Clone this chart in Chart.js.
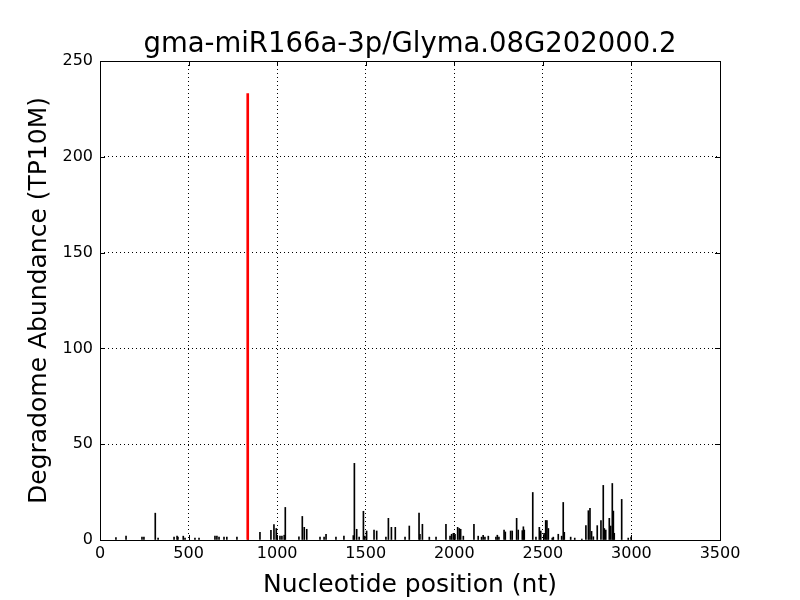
<!DOCTYPE html>
<html>
<head>
<meta charset="utf-8">
<script src="https://cdn.jsdelivr.net/npm/chart.js@4.4.1/dist/chart.umd.min.js"></script>
<style>
  html, body { margin: 0; padding: 0; background: #fff; }
  #wrap { width: 800px; height: 600px; }
</style>
</head>
<body>
<div id="wrap"><canvas id="degChart" width="800" height="600"></canvas></div>
<script>
// cleavage site (red) and other degradome tags (black)
const sitePos = [834];
const siteVal = [233];

const tagPos = [90, 147, 237, 248, 312, 328, 418, 435, 440, 470, 480, 536, 559, 649, 660, 672, 700, 716, 773, 836,
  903, 965, 982, 995, 1016, 1027, 1040, 1046, 1123, 1142, 1153, 1167, 1242, 1265, 1276, 1332, 1377,
  1430, 1436, 1449, 1463, 1487, 1495, 1505, 1547, 1562, 1614, 1628, 1645, 1667, 1722, 1746,
  1801, 1806, 1820, 1859, 1897, 1953, 1976, 1985, 1995, 2004, 2019, 2028, 2036, 2051, 2111,
  2135, 2154, 2163, 2173, 2192, 2235, 2243, 2252, 2281, 2288, 2318, 2327, 2352, 2361, 2384, 2390, 2395,
  2443, 2461, 2480, 2488, 2507, 2516, 2523, 2531, 2553, 2559, 2587, 2606, 2615, 2621, 2657, 2680, 2720,
  2743, 2757, 2766, 2775, 2785, 2807, 2828, 2841, 2847, 2855, 2875, 2883, 2892, 2898, 2903, 2945, 2982, 2998];
const tagVal = [1.2, 2, 1.5, 1.5, 14, 1, 1.5, 2, 1.5, 2, 1, 1, 1, 2, 2, 1.5, 1.5, 1.5, 1.5, 37,
  4, 5, 8, 6, 2, 2, 2.5, 17, 1.7, 12.3, 6.6, 5.6, 1.5, 1.5, 3, 1.5, 2,
  2.3, 40, 5.6, 1.5, 15, 2, 4.7, 5.2, 4.7, 1.5, 11.3, 6.6, 6.6, 1.5, 7.3,
  14, 3, 8.2, 1.5, 1.5, 8.2, 2, 3, 3.5, 3, 6.6, 6, 5.6, 2, 8.2,
  2, 1.5, 2.5, 1.5, 2, 1.5, 2.5, 1.5, 5.2, 4.2, 4.7, 4.7, 11.3, 5.2, 4.9, 6.9, 5.2,
  24.8, 1.5, 6.6, 4.7, 3.5, 10.2, 10.1, 6, 1, 1.5, 3, 2, 19.6, 4, 1.5, 1, 0.5,
  7.5, 15.3, 16.5, 4.5, 1.7, 7.5, 10.2, 28.5, 6, 5.2, 11.3, 7.3, 29.5, 15.1, 3.5, 21.2, 1, 1.5];

const xTicks = [0, 500, 1000, 1500, 2000, 2500, 3000, 3500];
const yTicks = [0, 50, 100, 150, 200, 250];

const FONT = "'DejaVu Sans', sans-serif";

// frame + inward ticks on all four sides, matplotlib classic look
const frameTicks = {
  id: 'frameTicks',
  afterDraw(chart) {
    const { ctx, chartArea: a, scales: { x, y } } = chart;
    const len = 5;
    ctx.save();
    ctx.strokeStyle = '#000';
    ctx.lineWidth = 1;
    ctx.beginPath();
    xTicks.forEach(v => {
      const px = Math.round(x.getPixelForValue(v)) + 0.5;
      ctx.moveTo(px, a.bottom); ctx.lineTo(px, a.bottom - len);
      ctx.moveTo(px, a.top); ctx.lineTo(px, a.top + len);
    });
    yTicks.forEach(v => {
      const py = Math.round(y.getPixelForValue(v)) + 0.5;
      ctx.moveTo(a.left, py); ctx.lineTo(a.left + len, py);
      ctx.moveTo(a.right, py); ctx.lineTo(a.right - len, py);
    });
    ctx.stroke();
    ctx.strokeRect(Math.round(a.left) + 0.5, Math.round(a.top) + 0.5,
      Math.round(a.right - a.left), Math.round(a.bottom - a.top));
    ctx.restore();
  }
};

new Chart(document.getElementById('degChart'), {
  type: 'bar',
  data: {
    datasets: [
      {
        data: sitePos.map((p, i) => ({ x: p, y: siteVal[i] })),
        backgroundColor: '#ff0000',
        barThickness: 2,
        grouped: false
      },
      {
        data: tagPos.map((p, i) => ({ x: p, y: tagVal[i] })),
        backgroundColor: '#000000',
        barThickness: 1,
        grouped: false
      }
    ]
  },
  plugins: [frameTicks],
  options: {
    responsive: false,
    animation: false,
    layout: { padding: { left: 0, right: 80, top: 0, bottom: 0 } },
    plugins: {
      legend: { display: false },
      tooltip: { enabled: false },
      title: {
        display: true,
        fullSize: false,
        text: 'gma-miR166a-3p/Glyma.08G202000.2',
        color: '#000',
        font: { family: FONT, size: 27.5, weight: 'normal' },
        padding: { top: 28, bottom: 0 }
      }
    },
    scales: {
      x: {
        type: 'linear',
        min: 0,
        max: 3500,
        offset: false,
        afterBuildTicks(s) { s.ticks = xTicks.map(v => ({ value: v })); },
        afterFit(s) { s.height = 60; },
        ticks: {
          color: '#000', font: { family: FONT, size: 16 }, padding: 4, maxRotation: 0,
          callback: v => String(v)
        },
        grid: { color: '#000', lineWidth: 1, drawTicks: false, offset: false },
        border: { display: false, dash: [1, 3] },
        title: {
          display: true,
          text: 'Nucleotide position (nt)',
          color: '#000',
          font: { family: FONT, size: 25 },
          padding: { top: 3, bottom: 0 }
        }
      },
      y: {
        min: 0,
        max: 250,
        afterBuildTicks(s) { s.ticks = yTicks.map(v => ({ value: v })); },
        afterFit(s) { s.width = 100; },
        ticks: {
          color: '#000', font: { family: FONT, size: 16 }, padding: 7,
          callback: v => String(v)
        },
        grid: { color: '#000', lineWidth: 1, drawTicks: false },
        border: { display: false, dash: [1, 3] },
        title: {
          display: true,
          text: 'Degradome Abundance (TP10M)',
          color: '#000',
          font: { family: FONT, size: 25 },
          padding: { top: 24, bottom: 0 }
        }
      }
    }
  }
});
</script>
</body>
</html>
